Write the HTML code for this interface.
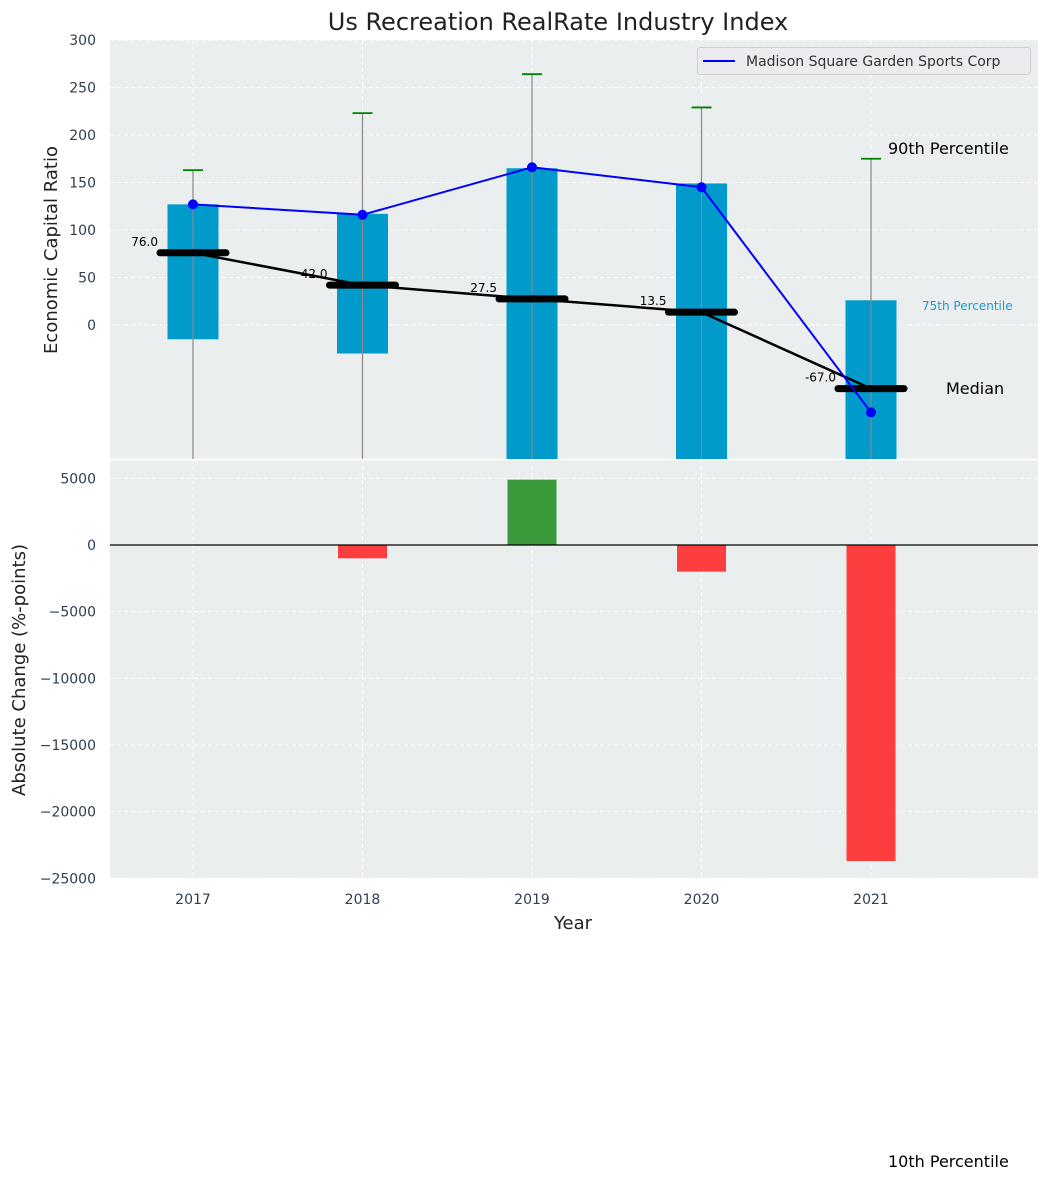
<!DOCTYPE html>
<html><head><meta charset="utf-8"><style>
body{margin:0;background:#fff;}
svg{display:block;font-family:"DejaVu Sans","Liberation Sans",sans-serif;}
</style></head><body>
<svg id="c" width="1048" height="1181"></svg>
<script>
const years=[2017,2018,2019,2020,2021];
const p75=[127,117,165,149,26];
const p10=[-15,-30,-200,-200,-200];
const p90=[163,223,264,229,175];
const medians=[76,42,27.5,13.5,-67];
const company=[127,116,166,145,-92];
const changes=[0,-1000,4900,-2000,-23700];
const topTicks=[0,50,100,150,200,250,300];
const botTicks=[5000,0,-5000,-10000,-15000,-20000,-25000];

const NS="http://www.w3.org/2000/svg";
const svg=document.getElementById('c');
function el(t,a,parent){const e=document.createElementNS(NS,t);for(const k in a)e.setAttribute(k,a[k]);(parent||svg).appendChild(e);return e;}
const L=110,R=1038,T1=40,B1=459,T2=459,B2=878;
const xs=y=>193+(y-2017)*169.5;
const y1=v=>325-v*0.95;
const y2=v=>545-v*0.013333;

let bg=el('rect',{x:L,y:T1,width:R-L,height:B1-T1,fill:'#eaeeee'});

let bg2=el('rect',{x:L,y:T2+1,width:R-L,height:B2-T2-1,fill:'#eaeeee'});

el('line',{x1:L,x2:R,y1:459.5,y2:459.5,stroke:'#fff','stroke-width':2});

const clip1=el('clipPath',{id:'cp1'});el('rect',{x:L,y:T1,width:R-L,height:B1-T1},clip1);
const clip2=el('clipPath',{id:'cp2'});el('rect',{x:L,y:T2,width:R-L,height:B2-T2},clip2);
const g1=el('g',{'clip-path':'url(#cp1)'});
const g2=el('g',{'clip-path':'url(#cp2)'});
topTicks.forEach(t=>{
  el('line',{x1:L,x2:R,y1:y1(t),y2:y1(t),stroke:'#fff','stroke-dasharray':'4,3'},g1);
  const tx=el('text',{x:96,y:y1(t)+5,'text-anchor':'end','font-size':14,fill:'#2f3e50'});
  tx.textContent=t;
  
  
});
botTicks.forEach(t=>{
  el('line',{x1:L,x2:R,y1:y2(t),y2:y2(t),stroke:'#fff','stroke-dasharray':'4,3'},g2);
  const tx=el('text',{x:96,y:y2(t)+5,'text-anchor':'end','font-size':14,fill:'#2f3e50'});
  tx.textContent=t<0?'\u2212'+Math.abs(t):t;
  
  
});
years.forEach(y=>{
  el('line',{x1:xs(y),x2:xs(y),y1:T1,y2:B1,stroke:'#fff','stroke-dasharray':'4,3'},g1);
  el('line',{x1:xs(y),x2:xs(y),y1:T2,y2:B2,stroke:'#fff','stroke-dasharray':'4,3'},g2);
  const tx=el('text',{x:xs(y),y:904,'text-anchor':'middle','font-size':14,fill:'#2f3e50'});
  tx.textContent=y;
  
  
});

years.forEach((y,i)=>{
  const top=y1(p75[i]),bot=y1(p10[i]);
  const r=el('rect',{x:xs(y)-25.5,y:top,width:51,height:bot-top,fill:'#009acb'},g1);
  
  
  const w=el('line',{x1:xs(y),x2:xs(y),y1:y1(p90[i]),y2:B1,stroke:'#888','stroke-width':1.2},g1);
  
  
  const c=el('line',{x1:xs(y)-10,x2:xs(y)+10,y1:y1(p90[i]),y2:y1(p90[i]),stroke:'green','stroke-width':1.8},g1);
  
  
});
el('polyline',{points:years.map((y,i)=>xs(y)+','+y1(medians[i])).join(' '),fill:'none',stroke:'#000','stroke-width':2.5},g1);
years.forEach((y,i)=>{
  const m=el('line',{x1:xs(y)-33,x2:xs(y)+33,y1:y1(medians[i]),y2:y1(medians[i]),stroke:'#000','stroke-width':7,'stroke-linecap':'round'},g1);
  
  
  const t=el('text',{x:xs(y)-35,y:y1(medians[i])-7,'text-anchor':'end','font-size':12,fill:'#000'});
  t.textContent=medians[i].toFixed(1);
  
  
});
const pl=el('polyline',{points:years.map((y,i)=>xs(y)+','+y1(company[i])).join(' '),fill:'none',stroke:'#0000ff','stroke-width':2},g1);


years.forEach((y,i)=>{
  const d=el('circle',{cx:xs(y),cy:y1(company[i]),r:5,fill:'#0000ff'},g1);
  
  
});
years.forEach((y,i)=>{
  const v=changes[i];if(v===0)return;
  const a=y2(Math.max(v,0)),b=y2(Math.min(v,0));
  const r=el('rect',{x:xs(y)-24.5,y:a,width:49,height:b-a,fill:v>0?'#3a9b3a':'#fd3e3e'},g2);
  
  
});
el('line',{x1:L,x2:R,y1:y2(0),y2:y2(0),stroke:'#000','stroke-width':1.2});

function txt(x,y,s,a,name){const t=el('text',Object.assign({x:x,y:y},a));t.textContent=s;return t;}
txt(558,30,'Us Recreation RealRate Industry Index',{'text-anchor':'middle','font-size':24,fill:'#222'},'chart-title');
txt(888,154,'90th Percentile',{'font-size':16,fill:'#000'},'label-90th');
txt(922,310,'75th Percentile',{'font-size':12,fill:'#1a9bcb'},'label-75th');
txt(946,394,'Median',{'font-size':16,fill:'#000'},'label-median');
txt(888,1167,'10th Percentile',{'font-size':16,fill:'#000'},'label-10th');
txt(573,929,'Year',{'text-anchor':'middle','font-size':18,fill:'#222'},'x-axis-title');
txt(0,0,'Economic Capital Ratio',{'text-anchor':'middle','font-size':18,fill:'#222',transform:'translate(57,250) rotate(-90)'},'y-axis-title');
txt(0,0,'Absolute Change (%-points)',{'text-anchor':'middle','font-size':18,fill:'#222',transform:'translate(25,670) rotate(-90)'},'y2-axis-title');

const lg=el('g',{});


el('rect',{x:697.5,y:47.5,width:333,height:27,rx:3,fill:'#eaecef',stroke:'#d0d0d0'},lg);
el('line',{x1:703,x2:735,y1:61,y2:61,stroke:'#0000ff','stroke-width':2},lg);
const lt=el('text',{x:746,y:66,'font-size':14,fill:'#333'},lg);
lt.textContent='Madison Square Garden Sports Corp';
</script>
</body></html>
